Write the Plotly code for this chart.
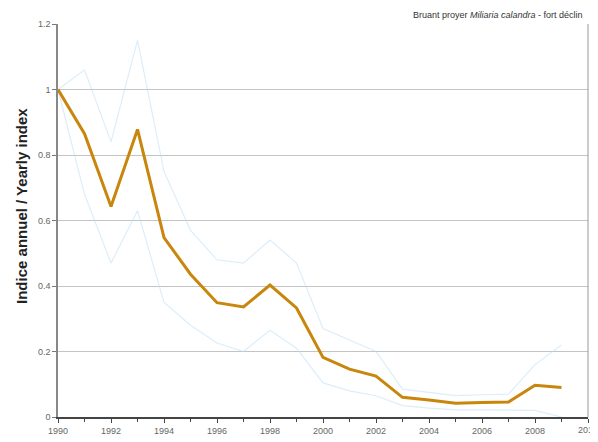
import plotly.graph_objects as go

years = list(range(1990, 2010))
index_vals = [1.0, 0.865, 0.643, 0.878, 0.548, 0.436, 0.349, 0.336, 0.403, 0.333,
              0.182, 0.146, 0.125, 0.060, 0.052, 0.042, 0.044, 0.046, 0.097, 0.090]
upper_vals = [1.0, 1.06, 0.84, 1.15, 0.75, 0.57, 0.48, 0.47, 0.54, 0.47,
              0.27, 0.235, 0.20, 0.085, 0.075, 0.065, 0.068, 0.07, 0.16, 0.22]
lower_vals = [1.0, 0.68, 0.47, 0.63, 0.35, 0.28, 0.226, 0.20, 0.265, 0.21,
              0.104, 0.08, 0.065, 0.035, 0.027, 0.022, 0.022, 0.022, 0.02, 0.0]
x_ticks = list(range(1990, 2011, 2))
y_ticks = [0, 0.2, 0.4, 0.6, 0.8, 1.0, 1.2]
y_tick_text = ["0", "0.2", "0.4", "0.6", "0.8", "1", "1.2"]

fig = go.Figure()
fig.add_trace(go.Scatter(x=years, y=upper_vals, mode="lines",
                         line=dict(color="rgba(185,222,245,0.5)", width=1.2), showlegend=False))
fig.add_trace(go.Scatter(x=years, y=lower_vals, mode="lines",
                         line=dict(color="rgba(185,222,245,0.5)", width=1.2), showlegend=False))
fig.add_trace(go.Scatter(x=years, y=index_vals, mode="lines",
                         line=dict(color="#C8860D", width=3), showlegend=False))

fig.update_layout(
    width=590, height=434,
    margin=dict(l=50, r=10, t=16, b=25),
    paper_bgcolor="white", plot_bgcolor="white",
    font=dict(family="Arial, Liberation Sans, sans-serif", color="#555555"),
    xaxis=dict(range=[1990, 2010], tickvals=x_ticks, ticktext=[str(v) for v in x_ticks],
               ticks="outside", ticklen=4, tickcolor="#444444", showgrid=False,
               showline=True, linecolor="#444444", linewidth=2,
               tickfont=dict(size=9, color="#666666"), automargin=False,
               minor=dict(dtick=1, tick0=1990, ticks="outside", ticklen=3, tickcolor="#444444"),
               zeroline=False),
    yaxis=dict(range=[0, 1.2], tickvals=y_ticks, ticktext=y_tick_text,
               ticks="outside", ticklen=4, tickcolor="#777777", automargin=False,
               showgrid=True, gridcolor="#c4c4c4", gridwidth=1,
               showline=True, linecolor="#888888", linewidth=1.5,
               tickfont=dict(size=9, color="#666666"), zeroline=False),
    shapes=[dict(type="line", xref="paper", yref="paper", x0=1, x1=1, y0=0, y1=1,
                 line=dict(color="#999999", width=1))],
    annotations=[
        dict(text="Bruant proyer <i>Miliaria calandra</i> - fort déclin",
             xref="paper", yref="paper", x=0.995, y=1.0, xanchor="right", yanchor="bottom",
             yshift=2, showarrow=False, font=dict(size=9, color="#333333")),
        dict(text="<b>Indice annuel / Yearly index</b>", textangle=-90,
             xref="paper", yref="paper", x=0, y=0.537, xshift=-36,
             xanchor="center", yanchor="middle", showarrow=False,
             font=dict(size=15, color="#222222")),
        dict(text=str(x_ticks[-1]), xref="x", yref="paper", x=x_ticks[-1], y=0,
             xanchor="center", yanchor="top", yshift=-6, showarrow=False,
             font=dict(size=9, color="#666666")),
    ],
)

fig.write_html("out.html")
